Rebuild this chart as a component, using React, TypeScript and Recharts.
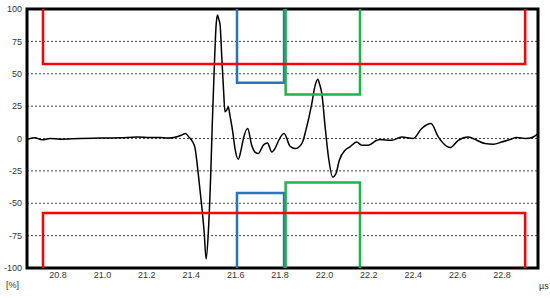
import React from 'react';
import { LineChart, Line, XAxis, YAxis, CartesianGrid, ReferenceArea } from 'recharts';

// A-scan waveform: time (µs) and amplitude (%)
const waveT = [
  20.665, 20.696, 20.728, 20.764, 20.809, 20.899, 20.989, 21.079, 21.156, 21.214,
  21.259, 21.295, 21.332, 21.354, 21.374, 21.39, 21.404, 21.417, 21.432, 21.447,
  21.458, 21.467, 21.477, 21.488, 21.495, 21.503, 21.512, 21.518, 21.524, 21.53,
  21.537, 21.545, 21.552, 21.56, 21.567, 21.574, 21.587, 21.597, 21.612, 21.624,
  21.635, 21.654, 21.672, 21.687, 21.702, 21.725, 21.743, 21.763, 21.777, 21.795,
  21.818, 21.845, 21.868, 21.898, 21.92, 21.943, 21.958, 21.97, 21.978, 21.988,
  22.003, 22.018, 22.037, 22.052, 22.067, 22.093, 22.115, 22.145, 22.168, 22.198,
  22.236, 22.25, 22.303, 22.348, 22.4, 22.438, 22.48, 22.513, 22.543, 22.566,
  22.603, 22.648, 22.686, 22.723, 22.761, 22.799, 22.836, 22.866, 22.904, 22.941,
  22.962,
];
const waveAmp = [
  -0.5, 0.5, -1, 0, -0.5, 0, 0.3, 0.5, 1.2, 0.8,
  0.8, 0.3, 1.2, 2.5, 3.8, 1, -2, -7.5, -28, -52,
  -72, -93, -72, -26, 13, 51.5, 87.6, 95.4, 92, 87.6,
  64.4, 39, 20.6, 22, 24.4, 18, 5, -7.8, -16, -9,
  0, 7.7, -5, -10.5, -11.6, -5, -3.4, -10.4, -7.8, -1,
  3.8, -6, -7.8, -3.9, 9, 27, 41, 45.8, 42, 34.8,
  9, -14.3, -29.7, -27, -16.8, -9, -6.5, -2.7, -5.2, -5.2,
  -1.4, -0.8, -1.4, 1.2, 0, 7.7, 11.5, 1.2, -5, -7,
  -1.4, 1.2, -1.4, -3.9, -4.4, -2.7, -0.8, 0.7, 0, 1.2,
  3.8,
];

// gates: start, end (µs), upper level, lower level (%)
const gateNames = ['blue', 'green', 'red'];
const gateStart = [21.606, 21.825, 20.732];
const gateEnd = [21.818, 22.16, 22.904];
const gateUpper = [43, 34, 57.5];
const gateLower = [-42, -34, -57.5];
const gateColors = ['#2574c0', '#22b14c', '#ff0000'];

const yTicks = [-100, -75, -50, -25, 0, 25, 50, 75, 100];
const xTicks = [20.8, 21.0, 21.2, 21.4, 21.6, 21.8, 22.0, 22.2, 22.4, 22.6, 22.8];
const xMin = 20.66;
const xMax = 22.962;

const wave = waveT.map((t, i) => ({ t, v: waveAmp[i] }));

const gateShape = (i: number, edge: number, level: number) => [
  { t: gateStart[i], v: edge },
  { t: gateStart[i], v: level },
  { t: gateEnd[i], v: level },
  { t: gateEnd[i], v: edge },
];

const tickStyle = { fontSize: 9, fill: '#333', fontFamily: 'Liberation Sans, Arial, sans-serif' };

export default function App() {
  return (
    <div style={{ position: 'absolute', left: 0, top: 0, width: 550, height: 298, background: '#fff' }}>
      <LineChart width={550} height={298} margin={{ top: 9, right: 12, bottom: 0, left: 0 }}>
        <CartesianGrid
          horizontal
          vertical={false}
          stroke="#444"
          strokeDasharray="2 2"
          horizontalValues={[-75, -50, -25, 0, 25, 50, 75]}
        />
        <XAxis
          type="number"
          dataKey="t"
          domain={[xMin, xMax]}
          ticks={xTicks}
          tickFormatter={(v: number) => v.toFixed(1)}
          allowDataOverflow
          height={30}
          tickSize={0}
          tickMargin={4}
          axisLine={false}
          tick={tickStyle}
        />
        <YAxis
          type="number"
          dataKey="v"
          domain={[-100, 100]}
          ticks={yTicks}
          allowDataOverflow
          width={27}
          tickSize={0}
          tickMargin={5}
          axisLine={false}
          tick={tickStyle}
        />
        <Line
          data={wave}
          dataKey="v"
          type="monotone"
          stroke="#000"
          strokeWidth={1.5}
          dot={false}
          activeDot={false}
          isAnimationActive={false}
        />
        {gateNames.map((name, i) => (
          <Line
            key={name + '-up'}
            data={gateShape(i, 100, gateUpper[i])}
            dataKey="v"
            type="linear"
            stroke={gateColors[i]}
            strokeWidth={2.5}
            dot={false}
            activeDot={false}
            isAnimationActive={false}
          />
        ))}
        {gateNames.map((name, i) => (
          <Line
            key={name + '-low'}
            data={gateShape(i, -100, gateLower[i])}
            dataKey="v"
            type="linear"
            stroke={gateColors[i]}
            strokeWidth={2.5}
            dot={false}
            activeDot={false}
            isAnimationActive={false}
          />
        ))}
        <ReferenceArea
          x1={xMin}
          x2={xMax}
          y1={-100}
          y2={100}
          fill="none"
          fillOpacity={0}
          stroke="#000"
          strokeWidth={3}
        />
      </LineChart>
      <span style={{ position: 'absolute', left: 6, top: 280, fontSize: 9, color: '#333', fontFamily: 'Liberation Sans, Arial, sans-serif' }}>[%]</span>
      <span style={{ position: 'absolute', left: 539, top: 281, fontSize: 9, color: '#333', fontFamily: 'Liberation Sans, Arial, sans-serif' }}>µs</span>
    </div>
  );
}
